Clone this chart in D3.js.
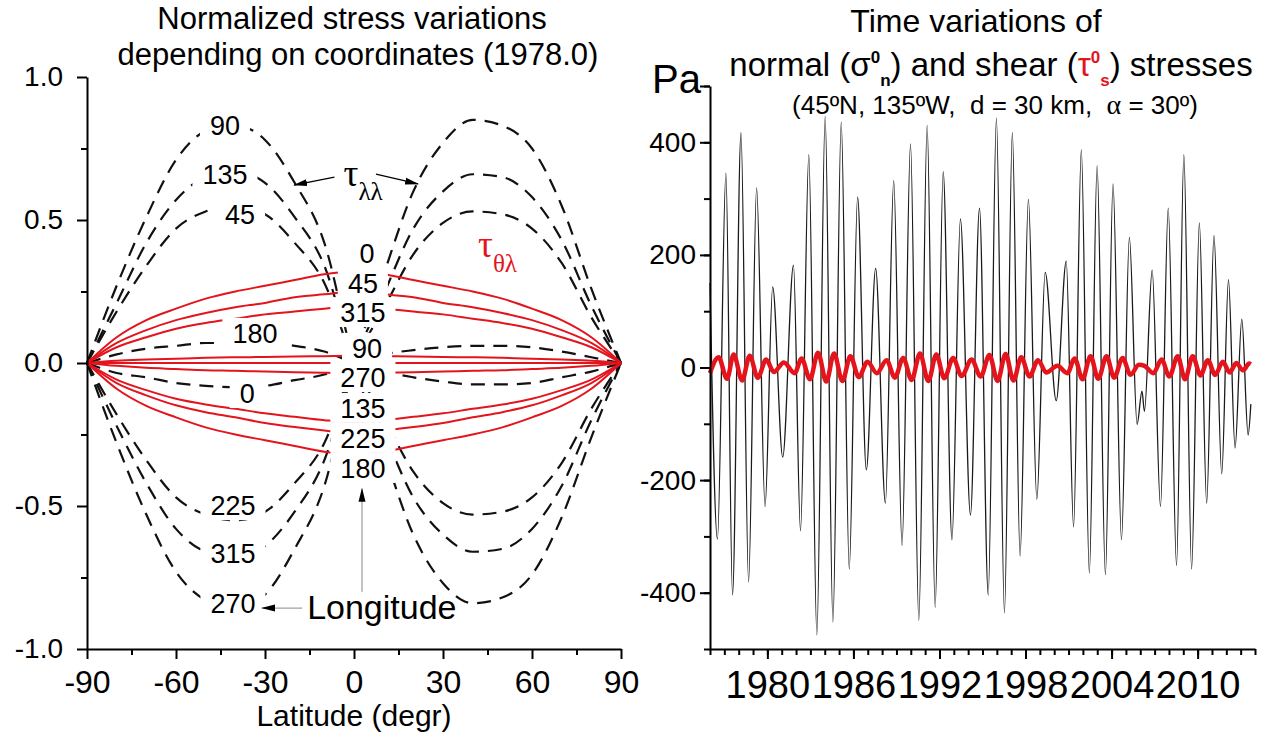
<!DOCTYPE html>
<html>
<head>
<meta charset="utf-8">
<script src="https://cdn.jsdelivr.net/npm/d3@7"></script>
<style>
  html, body { margin: 0; padding: 0; background: #fff; }
  svg { display: block; font-family: "Liberation Sans", Arial, sans-serif; }
</style>
</head>
<body>
<div id="chart"></div>
<script>
// ||================================||
// || DATA                           ||
// ||================================||

var latitudes = [-90,-80,-70,-60,-50,-40,-30,-20,-10,0,10,20,30,40,50,60,70,80,90];

// tau_lambda_lambda, normalized (black dashed), by longitude
var tll90  = [0,0.27,0.51,0.71,0.81,0.83,0.78,0.63,0.42,0,-0.31,-0.60,-0.77,-0.84,-0.82,-0.74,-0.54,-0.26,0];
var tll135 = [0,0.21,0.42,0.57,0.65,0.67,0.63,0.51,0.34,0,-0.24,-0.47,-0.60,-0.66,-0.65,-0.58,-0.43,-0.20,0];
var tll45  = [0,0.18,0.34,0.47,0.53,0.55,0.52,0.42,0.28,0,-0.19,-0.38,-0.49,-0.53,-0.52,-0.47,-0.35,-0.16,0];
var tll225 = [0,-0.18,-0.34,-0.47,-0.53,-0.55,-0.52,-0.42,-0.28,0,0.19,0.38,0.49,0.53,0.52,0.47,0.35,0.16,0];
var tll315 = [0,-0.22,-0.42,-0.58,-0.66,-0.68,-0.64,-0.52,-0.34,0,0.24,0.47,0.60,0.66,0.65,0.58,0.43,0.20,0];
var tll270 = [0,-0.28,-0.53,-0.73,-0.83,-0.86,-0.81,-0.65,-0.43,0,0.31,0.60,0.77,0.85,0.83,0.75,0.55,0.26,0];
var tll180 = [0,0.03,0.05,0.06,0.07,0.07,0.07,0.06,0.04,0,-0.03,-0.05,-0.065,-0.075,-0.075,-0.07,-0.05,-0.03,0];
var tll0   = [0,-0.035,-0.05,-0.07,-0.08,-0.085,-0.08,-0.06,-0.04,0,0.03,0.045,0.055,0.06,0.06,0.055,0.04,0.02,0];

// tau_theta_lambda, normalized (red), by longitude
var ttl0   = [0,0.09,0.15,0.19,0.225,0.25,0.27,0.29,0.31,0.32,0.31,0.29,0.27,0.25,0.225,0.19,0.15,0.09,0];
var ttl45  = [0,0.07,0.115,0.15,0.175,0.195,0.21,0.23,0.24,0.25,0.24,0.23,0.21,0.195,0.175,0.15,0.115,0.07,0];
var ttl315 = [0,0.055,0.09,0.12,0.14,0.155,0.17,0.18,0.19,0.2,0.19,0.18,0.17,0.155,0.14,0.12,0.09,0.055,0];
var ttl90  = [0,0.008,0.012,0.015,0.018,0.02,0.021,0.023,0.024,0.025,0.024,0.023,0.021,0.02,0.018,0.015,0.012,0.008,0];
var ttlMid = [0,0,0,0,0,0,0,0,0,0,0,0,0,0,0,0,0,0,0];
var ttl270 = [0,-0.01,-0.017,-0.021,-0.025,-0.027,-0.03,-0.032,-0.034,-0.035,-0.034,-0.032,-0.03,-0.027,-0.025,-0.021,-0.017,-0.01,0];
var ttl135 = [0,-0.058,-0.095,-0.125,-0.145,-0.16,-0.176,-0.188,-0.2,-0.207,-0.2,-0.188,-0.176,-0.16,-0.145,-0.125,-0.095,-0.058,0];
var ttl225 = [0,-0.07,-0.113,-0.148,-0.172,-0.19,-0.21,-0.224,-0.236,-0.246,-0.236,-0.224,-0.21,-0.19,-0.172,-0.148,-0.113,-0.07,0];
var ttl180 = [0,-0.09,-0.15,-0.19,-0.225,-0.25,-0.27,-0.29,-0.31,-0.32,-0.31,-0.29,-0.27,-0.25,-0.225,-0.19,-0.15,-0.09,0];

// longitude labels: [text, latitude, value]
var sideLabels = [["90",-43.5,0.83],["135",-43.5,0.66],["45",-38.4,0.52],["180",-33.4,0.105],
                  ["0",-36,-0.105],["225",-40.8,-0.497],["315",-40.8,-0.665],["270",-40.8,-0.84]];
var centerLabels = [["0",4.4,0.385],["45",3.0,0.28],["315",3.0,0.178],["90",4.4,0.053],
                    ["270",3.0,-0.049],["135",3.0,-0.157],["225",3.0,-0.262],["180",3.0,-0.367]];

var leftXTicks = [-90,-60,-30,0,30,60,90];
var leftXMinor = [-75,-45,-15,15,45,75];
var leftYTicks = [-1,-0.5,0,0.5,1];
var leftYMinor = [-0.75,-0.25,0.25,0.75];

// normal stress sigma_n (extrema), Pa
var normalYear = [1976.0,1976.52,1977.11,1977.57,1978.16,1978.69,1979.25,1979.84,1980.37,1981.07,1981.82,1982.31,
  1982.89,1983.45,1984.03,1984.57,1985.15,1985.71,1986.29,1986.90,1987.55,1988.23,1988.81,1989.39,1989.98,1990.56,
  1991.14,1991.70,1992.26,1992.87,1993.46,1994.16,1994.79,1995.40,1995.97,1996.53,1997.08,1997.62,1998.20,1998.79,
  1999.37,2000.14,2000.84,2001.35,2001.89,2002.45,2002.99,2003.57,2004.10,2004.69,2005.24,2005.78,2006.12,2006.29,
  2006.83,2007.41,2007.95,2008.53,2009.04,2009.58,2010.12,2010.63,2011.14,2011.68,2012.15,2012.61,2013.08,2013.52,2013.71];
var normalPa = [150,-305,345,-404,417,-381,319,-247,143,-159,182,-290,
  378,-475,446,-452,436,-358,303,-182,176,-241,332,-316,397,-449,
  430,-426,348,-306,264,-262,283,-404,443,-436,417,-335,299,-234,
  169,-59,189,-283,387,-365,358,-368,326,-306,231,-101,-42,-78,
  173,-247,283,-352,378,-358,257,-241,234,-189,156,-143,86,-120,-65];

// shear stress tau_s, Pa
var shearYear = [1976.0,1976.6,1977.19,1977.65,1978.24,1978.77,1979.33,1979.92,1980.45,1981.15,1981.9,1982.39,
  1982.97,1983.53,1984.11,1984.65,1985.23,1985.79,1986.37,1986.98,1987.63,1988.31,1988.89,1989.47,1990.06,1990.64,
  1991.22,1991.78,1992.34,1992.95,1993.54,1994.24,1994.87,1995.48,1996.05,1996.61,1997.16,1997.7,1998.28,1998.87,
  1999.45,2000.22,2000.92,2001.43,2001.97,2002.53,2003.07,2003.65,2004.18,2004.77,2005.32,2005.9,2006.3,
  2006.91,2007.49,2008.03,2008.61,2009.12,2009.66,2010.2,2010.71,2011.22,2011.76,2012.23,2012.69,2013.16,2013.6,2013.71];
var shearPa = [-10,18,-20,23,-23,21,-18,14,-8,9,-10,16,
  -21,26,-25,25,-24,20,-17,10,-10,13,-18,17,-22,25,
  -24,23,-19,17,-15,14,-16,22,-24,24,-23,18,-16,13,
  -9,3,-10,16,-21,20,-20,20,-18,17,-13,5,3,
  -10,14,-16,20,-21,20,-14,13,-13,10,-9,8,-5,7,6];

var rightXTicks = [1980,1986,1992,1998,2004,2010];
var rightYTicks = [-400,-200,0,200,400];

// ||================================||
// || SETUP                          ||
// ||================================||

var width = 1264, height = 733;
var RED = "#e3141c";

var svg = d3.select("#chart").append("svg")
    .attr("width", width)
    .attr("height", height);

var defs = svg.append("defs");
defs.append("marker")
    .attr("id", "head")
    .attr("viewBox", "0 0 14 14")
    .attr("refX", 13).attr("refY", 7)
    .attr("markerWidth", 14).attr("markerHeight", 14)
    .attr("markerUnits", "userSpaceOnUse")
    .attr("orient", "auto")
  .append("path")
    .attr("d", "M0,3.5 L14,7 L0,10.5 z")
    .attr("fill", "#000");

function styleAxis(g, size) {
  g.attr("font-family", "Liberation Sans, Arial, sans-serif").attr("font-size", size);
  g.select(".domain").attr("stroke", "#000").attr("stroke-width", 2);
  g.selectAll(".tick line").attr("stroke", "#000").attr("stroke-width", 2);
  g.selectAll(".tick text").attr("fill", "#000");
}

function minorAxis(axis) {
  return function(g) {
    g.call(axis);
    g.select(".domain").remove();
    g.selectAll(".tick line").attr("stroke", "#000").attr("stroke-width", 2);
  };
}

// ||================================||
// || LEFT CHART                     ||
// ||================================||

var xL = d3.scaleLinear().domain([-90, 90]).range([87, 621]);
var yL = d3.scaleLinear().domain([-1, 1]).range([649, 77]);

var lineL = d3.line()
    .x(function(d, i) { return xL(latitudes[i]); })
    .y(function(d) { return yL(d); })
    .curve(d3.curveMonotoneX);

var dashed = [tll90, tll135, tll45, tll225, tll315, tll270, tll180, tll0];
var reds = [ttl0, ttl45, ttl315, ttl90, ttlMid, ttl270, ttl135, ttl225, ttl180];

svg.append("g").selectAll("path")
  .data(dashed).enter().append("path")
    .attr("d", lineL)
    .attr("fill", "none")
    .attr("stroke", "#111")
    .attr("stroke-width", 2.2)
    .attr("stroke-dasharray", "14,9");

svg.append("g").selectAll("path")
  .data(reds).enter().append("path")
    .attr("d", lineL)
    .attr("fill", "none")
    .attr("stroke", RED)
    .attr("stroke-width", 2);

// labels with white boxes behind them
var labelG = svg.append("g");
function maskedLabel(d) {
  var cx = xL(d[1]), cy = yL(d[2]);
  var t = labelG.append("text")
      .attr("x", cx).attr("y", cy)
      .attr("dy", "0.36em")
      .attr("text-anchor", "middle")
      .style("font-size", "27px")
      .text(d[0]);
  var b = t.node().getBBox();
  labelG.insert("rect", function() { return t.node(); })
      .attr("x", b.x - 10).attr("y", cy - 15)
      .attr("width", b.width + 20).attr("height", 30)
      .attr("fill", "#fff");
}
sideLabels.forEach(maskedLabel);
centerLabels.forEach(maskedLabel);

// axes
svg.append("g").attr("transform", "translate(87,0)")
  .call(minorAxis(d3.axisLeft(yL).tickValues(leftYMinor).tickFormat("").tickSize(6)));
var gyL = svg.append("g").attr("transform", "translate(87,0)")
  .call(d3.axisLeft(yL).tickValues(leftYTicks).tickFormat(function(d) { return d.toFixed(1); })
        .tickSize(10).tickSizeOuter(0).tickPadding(14));
styleAxis(gyL, 28);

svg.append("g").attr("transform", "translate(0,649)")
  .call(minorAxis(d3.axisBottom(xL).tickValues(leftXMinor).tickFormat("").tickSize(6)));
var gxL = svg.append("g").attr("transform", "translate(0,649)")
  .call(d3.axisBottom(xL).tickValues(leftXTicks).tickFormat(String)
        .tickSize(10).tickSizeOuter(0).tickPadding(11));
styleAxis(gxL, 32);

svg.append("text")
    .attr("x", xL(0)).attr("y", 726)
    .attr("text-anchor", "middle")
    .style("font-size", "30px")
    .text("Latitude (degr)");

// titles
svg.append("text").attr("x", 352).attr("y", 29).attr("text-anchor", "middle")
    .style("font-size", "31px").text("Normalized stress variations");
svg.append("text").attr("x", 358).attr("y", 65).attr("text-anchor", "middle")
    .style("font-size", "31px").text("depending on coordinates (1978.0)");

// tau_ll annotation
var tll = svg.append("text")
    .attr("x", xL(-3.5)).attr("y", yL(0.62))
    .style("font-family", "Liberation Serif, DejaVu Serif, serif")
    .style("font-size", "37px");
tll.append("tspan").text("τ");
tll.append("tspan").attr("dy", 14).style("font-size", "25px").text("λλ");

svg.append("line")
    .attr("x1", xL(-6.6)).attr("y1", yL(0.65))
    .attr("x2", xL(-20.2)).attr("y2", yL(0.622))
    .attr("stroke", "#000").attr("stroke-width", 1.3)
    .attr("marker-end", "url(#head)");
svg.append("line")
    .attr("x1", xL(7.4)).attr("y1", yL(0.66))
    .attr("x2", xL(21.6)).attr("y2", yL(0.626))
    .attr("stroke", "#000").attr("stroke-width", 1.3)
    .attr("marker-end", "url(#head)");

// tau_thetalambda annotation
var ttl = svg.append("text")
    .attr("x", xL(41.8)).attr("y", yL(0.37))
    .attr("fill", RED)
    .style("font-family", "Liberation Serif, DejaVu Serif, serif")
    .style("font-size", "37px");
ttl.append("tspan").text("τ");
ttl.append("tspan").attr("dy", 15).style("font-size", "25px").text("θλ");

// Longitude annotation
svg.append("text")
    .attr("x", xL(-15.8)).attr("y", yL(-0.895))
    .style("font-size", "34px")
    .text("Longitude");
svg.append("line")
    .attr("x1", xL(2.7)).attr("y1", yL(-0.80))
    .attr("x2", xL(2.7)).attr("y2", yL(-0.44))
    .attr("stroke", "#888").attr("stroke-width", 1)
    .attr("marker-end", "url(#head)");
svg.append("line")
    .attr("x1", xL(-17.5)).attr("y1", yL(-0.857))
    .attr("x2", xL(-31)).attr("y2", yL(-0.857))
    .attr("stroke", "#888").attr("stroke-width", 1)
    .attr("marker-end", "url(#head)");

// ||================================||
// || RIGHT CHART                    ||
// ||================================||

var xR = d3.scaleLinear().domain([1976, 2014]).range([710, 1255]);
var yR = d3.scaleLinear().domain([-500, 500]).range([649, 86]);

var lineR = d3.line()
    .x(function(d) { return xR(d[0]); })
    .y(function(d) { return yR(d[1]); })
    .curve(d3.curveMonotoneX);

svg.append("path")
    .datum(d3.zip(normalYear, normalPa))
    .attr("d", lineR)
    .attr("fill", "none")
    .attr("stroke", "#1a1a1a")
    .attr("stroke-width", 1.3);

svg.append("path")
    .datum(d3.zip(shearYear, shearPa))
    .attr("d", lineR)
    .attr("fill", "none")
    .attr("stroke", RED)
    .attr("stroke-width", 4.5)
    .attr("stroke-linejoin", "round");

svg.append("g").attr("transform", "translate(710,0)")
  .call(minorAxis(d3.axisLeft(yR).tickValues(d3.range(-500, 501, 100)).tickFormat("").tickSize(6)));
var gyR = svg.append("g").attr("transform", "translate(710,0)")
  .call(d3.axisLeft(yR).tickValues(rightYTicks.concat([500])).tickFormat(function(d) { return d === 500 ? "" : String(d); })
        .tickSize(10).tickSizeOuter(0).tickPadding(4));
styleAxis(gyR, 28);

svg.append("g").attr("transform", "translate(0,649)")
  .call(minorAxis(d3.axisBottom(xR).tickValues(d3.range(1976, 2015)).tickFormat("").tickSize(6)));
var gxR = svg.append("g").attr("transform", "translate(0,649)")
  .call(d3.axisBottom(xR).tickValues(rightXTicks).tickFormat(String)
        .tickSize(10).tickSizeOuter(0).tickPadding(12));
styleAxis(gxR, 38);

svg.append("text")
    .attr("x", 701).attr("y", 93)
    .attr("text-anchor", "end")
    .style("font-size", "40px")
    .text("Pa");

// titles
svg.append("text").attr("x", 976).attr("y", 32).attr("text-anchor", "middle")
    .style("font-size", "32px").text("Time variations of");

var t2 = svg.append("text").attr("x", 991).attr("y", 76).attr("text-anchor", "middle")
    .style("font-size", "33px");
t2.append("tspan").text("normal (σ");
t2.append("tspan").attr("dy", -13).style("font-size", "17px").style("font-weight", "bold").text("0");
t2.append("tspan").attr("dy", 23).style("font-size", "17px").style("font-weight", "bold").text("n");
t2.append("tspan").attr("dy", -10).text(") and shear (");
t2.append("tspan").attr("fill", RED).text("τ");
t2.append("tspan").attr("dy", -13).attr("fill", RED).style("font-size", "17px").style("font-weight", "bold").text("0");
t2.append("tspan").attr("dy", 23).attr("fill", RED).style("font-size", "17px").style("font-weight", "bold").text("s");
t2.append("tspan").attr("dy", -10).text(") stresses");

var t3 = svg.append("text").attr("x", 995).attr("y", 114).attr("text-anchor", "middle")
    .style("font-size", "26px").style("white-space", "pre");
t3.append("tspan").text("(45ºN, 135ºW,  d = 30 km,  ");
t3.append("tspan").style("font-family", "Liberation Serif, serif").style("font-size", "28px").text("α");
t3.append("tspan").text(" = 30º)");
</script>
</body>
</html>
